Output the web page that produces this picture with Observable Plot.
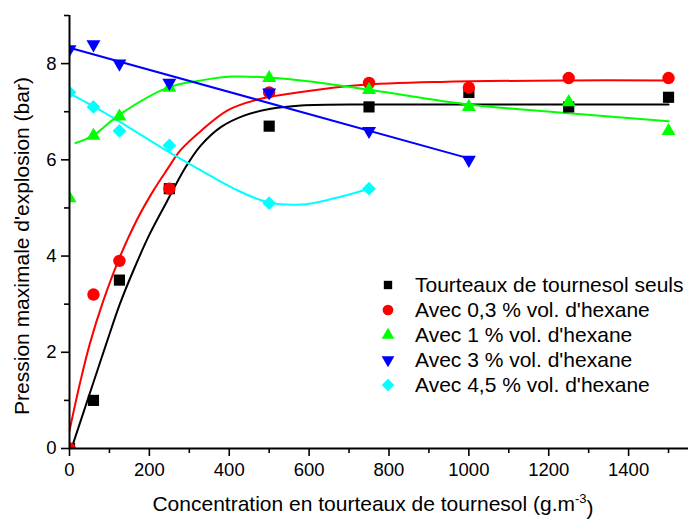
<!DOCTYPE html>
<html><head><meta charset="utf-8">
<script src="https://cdn.jsdelivr.net/npm/d3@7"></script>
<script src="https://cdn.jsdelivr.net/npm/@observablehq/plot@0.6"></script>
<style>
body{margin:0;background:#fff;}
#wrap{position:relative;width:697px;height:520px;font-family:"Liberation Sans",Arial,sans-serif;}
#legend{position:absolute;left:378px;top:272px;font-size:21px;color:#000;}
#legend .row{height:25px;display:flex;align-items:center;white-space:nowrap;}
#legend svg{width:20px;height:20px;margin-right:17px;overflow:visible;}
</style></head><body><div id="wrap"><div id="legend"></div></div>
<script>
// Measured points
const seriesNames = ["Tourteaux de tournesol seuls","Avec 0,3 % vol. d'hexane","Avec 1 % vol. d'hexane","Avec 3 % vol. d'hexane","Avec 4,5 % vol. d'hexane"];
const seriesColors = ["#000000","#ff0000","#00ff00","#0000ff","#00ffff"];
const concFull = [0, 60, 125, 250, 500, 750, 1000, 1250, 1500];
const concBlue = [0, 60, 125, 250, 500, 750, 1000];
const concCyan = [0, 60, 125, 250, 500, 750];
const pSeuls = [0, 1.0, 3.5, 5.4, 6.7, 7.1, 7.4, 7.1, 7.3];
const pHex03 = [0, 3.2, 3.9, 5.4, 7.4, 7.6, 7.5, 7.7, 7.7];
const pHex1  = [5.2, 6.5, 6.9, 7.5, 7.7, 7.45, 7.1, 7.2, 6.6];
const pHex3  = [8.3, 8.4, 8.0, 7.6, 7.4, 6.6, 6.0];
const pHex45 = [7.4, 7.1, 6.6, 6.3, 5.1, 5.4];

// Fitted curves
const fitSeulsX = [5, 59, 93, 126, 160, 201, 243, 291, 329, 379, 437, 504, 580, 750, 1000, 1500];
const fitSeulsY = [0, 1.35, 2.2, 3.0, 3.7, 4.46, 5.12, 5.85, 6.3, 6.68, 6.92, 7.06, 7.13, 7.15, 7.15, 7.15];
const fitHex03X = [0, 26, 51, 85, 126, 168, 210, 243, 278, 329, 396, 479, 580, 722, 931, 1250, 1500];
const fitHex03Y = [0.37, 1.35, 2.18, 3.08, 3.98, 4.74, 5.36, 5.78, 6.2, 6.6, 7.03, 7.27, 7.41, 7.55, 7.62, 7.65, 7.65];
const fitHex1X = [15, 60, 122, 246, 329, 412, 580, 763, 1000, 1250, 1500];
const fitHex1Y = [6.35, 6.51, 6.92, 7.5, 7.65, 7.73, 7.65, 7.44, 7.15, 6.97, 6.8];
const fitHex3X = [0, 1000];
const fitHex3Y = [8.33, 6.03];
const fitHex45X = [0, 60, 120, 245, 329, 412, 496, 580, 663, 750];
const fitHex45Y = [7.38, 7.11, 6.82, 6.18, 5.78, 5.4, 5.12, 5.07, 5.2, 5.4];

// Axis ticks
const xMajor = [0, 200, 400, 600, 800, 1000, 1200, 1400];
const xMinor = [100, 300, 500, 700, 900, 1100, 1300, 1500];
const yMajor = [0, 2, 4, 6, 8];
const yMinor = [1, 3, 5, 7, 9];
const xTitle = "Concentration en tourteaux de tournesol (g.m";
const xTitleSup = "-3";
const yTitle = "Pression maximale d'explosion (bar)";

const toPts = (xs, ys) => xs.map((x, i) => ({x, y: ys[i]}));
const pts = [
  toPts(concFull, pSeuls), toPts(concFull, pHex03), toPts(concFull, pHex1),
  toPts(concBlue, pHex3), toPts(concCyan, pHex45)
];
const fits = [
  toPts(fitSeulsX, fitSeulsY), toPts(fitHex03X, fitHex03Y), toPts(fitHex1X, fitHex1Y),
  toPts(fitHex3X, fitHex3Y), toPts(fitHex45X, fitHex45Y)
];
const symbols = ["square","circle","triangle","triangle","diamond2"];
const rotates = [0, 0, 0, 180, 0];
const radii = [6.3, 6.2, 5.2, 5.2, 6.2];
const curves = ["catmull-rom","catmull-rom","catmull-rom","linear","catmull-rom"];

const marks = [];
fits.forEach((f, i) => marks.push(Plot.line(f, {x: "x", y: "y", stroke: seriesColors[i], strokeWidth: 2, curve: curves[i], clip: true})));
pts.forEach((p, i) => marks.push(Plot.dot(p, {x: "x", y: "y", symbol: symbols[i], fill: seriesColors[i], stroke: "none", r: radii[i], rotate: rotates[i], clip: true})));
marks.push(
  Plot.ruleX([0], {stroke: "#000", strokeWidth: 2}),
  Plot.ruleY([0], {stroke: "#000", strokeWidth: 2}),
  Plot.axisX({ticks: xMajor, tickSize: 8, tickPadding: 6, fontSize: 18.5, strokeWidth: 1.6, label: null, tickFormat: d => String(d)}),
  Plot.axisX({ticks: xMinor, tickSize: 5, strokeWidth: 1.6, label: null, tickFormat: () => ""}),
  Plot.axisY({ticks: yMajor, tickSize: 8, tickPadding: 5, fontSize: 18.5, strokeWidth: 1.6, label: null, tickFormat: d => String(d)}),
  Plot.axisY({ticks: yMinor, tickSize: 5, strokeWidth: 1.6, label: null, tickFormat: () => ""}),
  Plot.text([yTitle], {frameAnchor: "left", textAnchor: "middle", dx: -47, dy: 14, rotate: -90, fontSize: 21, fill: "#000", text: d => d}),
  Plot.text([xTitle], {frameAnchor: "bottom", textAnchor: "middle", dx: -6, dy: 62, fontSize: 21, fill: "#000", text: d => d, className: "xtitle"})
);

const chart = Plot.plot({
  width: 697, height: 520,
  marginLeft: 69, marginRight: 9, marginTop: 15, marginBottom: 72,
  x: {domain: [0, 1550], label: null},
  y: {domain: [0, 9], label: null},
  style: {fontFamily: "'Liberation Sans', Arial, sans-serif", color: "#000", background: "#fff", overflow: "visible"},
  marks
});
document.getElementById("wrap").prepend(chart);

// superscript in x title
d3.select(chart).selectAll("g.xtitle text").each(function() {
  const t = d3.select(this);
  t.text(null);
  t.append("tspan").text(xTitle);
  t.append("tspan").attr("dy", "-0.55em").attr("font-size", 13).text(xTitleSup);
  t.append("tspan").attr("dy", "0.55em").text(")");
});

// legend
const legend = d3.select("#legend");
const symMap = {square: d3.symbolSquare, circle: d3.symbolCircle, triangle: d3.symbolTriangle, diamond2: d3.symbolDiamond2};
const legendSizes = [70, 90, 70, 70, 100];
seriesNames.forEach((name, i) => {
  const row = legend.append("div").attr("class", "row");
  const svg = row.append("svg").attr("viewBox", "-10 -10 20 20");
  svg.append("path").attr("d", d3.symbol(symMap[symbols[i]], legendSizes[i])()).attr("fill", seriesColors[i]).attr("transform", `rotate(${rotates[i]})`);
  row.append("span").text(name);
});
</script></body></html>
